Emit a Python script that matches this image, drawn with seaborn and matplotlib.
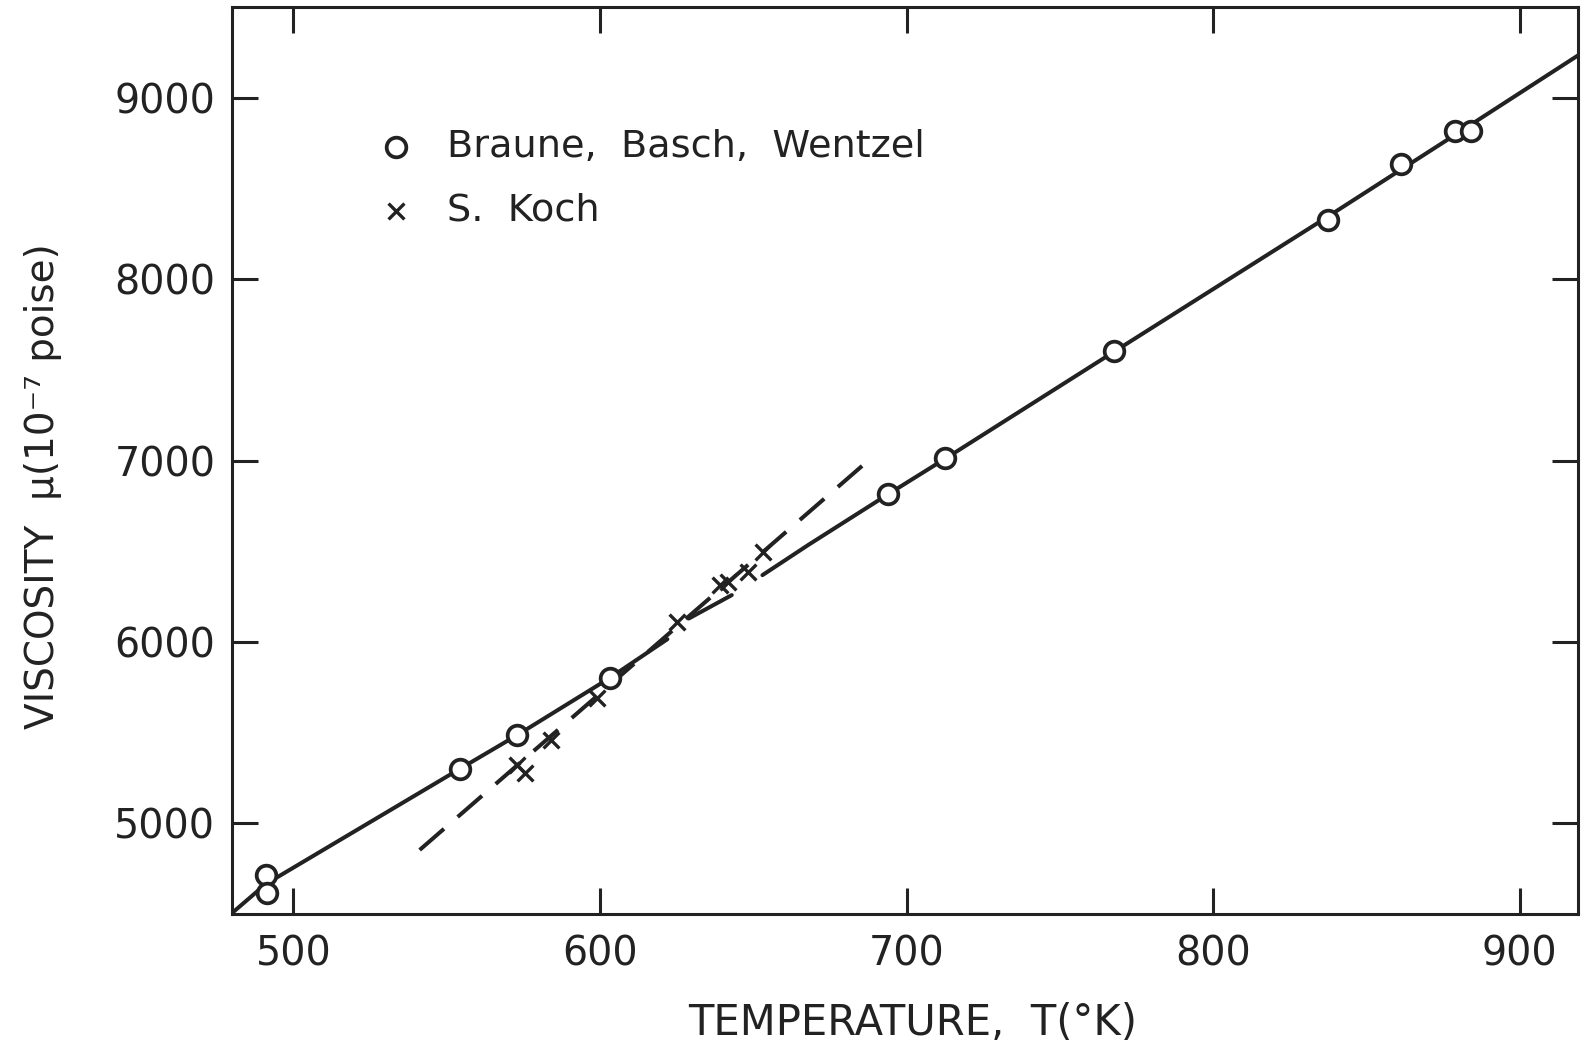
import numpy as np
import pandas as pd
import matplotlib
matplotlib.use("Agg")
import matplotlib.pyplot as plt
from matplotlib import font_manager
import seaborn as sns

# ---- data ----
braune_T = [491.0, 491.3, 554.3, 573.1, 603.3, 693.9, 712.6, 767.8, 837.5, 861.2, 879.0, 884.1]
braune_mu = [4715, 4614, 5297, 5486, 5799, 6814, 7014, 7603, 8325, 8636, 8816, 8816]

koch_T = [572.9, 575.6, 584.1, 599.0, 625.1, 639.2, 641.9, 648.2, 653.1]
koch_mu = [5321, 5275, 5459, 5688, 6111, 6313, 6331, 6386, 6496]

# solid curve (three visible pieces)
curve_T = [480, 491, 554, 573, 603, 622, 629, 643, 653, 668, 694, 713, 768, 837, 881, 919]
curve_mu = [4505, 4665, 5297, 5486, 5799, 6015, 6129, 6258, 6368, 6535, 6814, 7014, 7603, 8340, 8818, 9233]
curve_seg = [0, 0, 0, 0, 0, 0, 1, 1, 2, 2, 2, 2, 2, 2, 2, 2]

# dashed line
dash_T = [541.2, 685.5]
dash_mu = [4853, 6970]

xticks = [500, 600, 700, 800, 900]
yticks = [5000, 6000, 7000, 8000, 9000]
xlim = (480, 919)
ylim = (4500, 9500)

label_braune = "Braune,  Basch,  Wentzel"
label_koch = "S.  Koch"
xlabel = "TEMPERATURE,  T(°K)"
ylabel = "VISCOSITY  μ(10⁻⁷ poise)"

# ---- styling ----
sns.set_style("ticks")
plt.rcParams["font.family"] = ["DejaVu Sans"]
names = {f.name for f in font_manager.fontManager.ttflist}
narrow = "Liberation Sans Narrow" in names

fig = plt.figure(figsize=(15.81, 10.42), dpi=100)
ax = fig.add_axes([232 / 1581, 1 - 914 / 1042, 1346 / 1581, 907 / 1042])

curve_df = pd.DataFrame({"T": curve_T, "mu": curve_mu, "seg": curve_seg})
sns.lineplot(data=curve_df, x="T", y="mu", units="seg", estimator=None,
             color="#222222", linewidth=2.9, ax=ax, sort=False, zorder=2)

dash_df = pd.DataFrame({"T": dash_T, "mu": dash_mu})
sns.lineplot(data=dash_df, x="T", y="mu", color="#222222", linewidth=2.9,
             ax=ax, zorder=2)
ax.lines[-1].set_dashes((8.0, 4.5))

sns.scatterplot(x=braune_T, y=braune_mu, marker="o", s=200, color="white",
                edgecolor="#222222", linewidth=2.7, ax=ax, zorder=4,
                label=label_braune)
sns.scatterplot(x=koch_T, y=koch_mu, marker="x", s=130, color="#222222",
                linewidth=2.4, ax=ax, zorder=3, label=label_koch)

ax.set_xlim(*xlim)
ax.set_ylim(*ylim)
ax.set_xticks(xticks)
ax.set_yticks(yticks)
ax.tick_params(which="both", direction="in", top=True, right=True,
               length=18.5, width=2.2, labelsize=28.5, colors="#222222")
ax.tick_params(axis="x", pad=15)
ax.tick_params(axis="y", pad=12)
for s in ax.spines.values():
    s.set_linewidth(2.2)
    s.set_color("#222222")

if narrow:
    fam = ["Liberation Sans Narrow", "DejaVu Sans"]
    ax.set_xlabel(xlabel, fontsize=40, family=fam, color="#222222")
    ax.set_ylabel(ylabel, fontsize=38, family=fam, color="#222222")
else:
    ax.set_xlabel(xlabel, fontsize=30, color="#222222")
    ax.set_ylabel(ylabel, fontsize=28, color="#222222")
ax.xaxis.set_label_coords(0.5056, -0.097)
ax.yaxis.set_label_coords(-0.126, 0.472)

handles, labels = ax.get_legend_handles_labels()
leg = ax.legend(handles, labels, loc="upper left", bbox_to_anchor=(0.1077, 0.866),
                frameon=False, fontsize=27.5, borderpad=0, borderaxespad=0,
                handlelength=1.0, handletextpad=0.83, labelspacing=0.74)
for t in leg.get_texts():
    t.set_color("#222222")

fig.savefig("out.png", dpi=100, facecolor="white")
